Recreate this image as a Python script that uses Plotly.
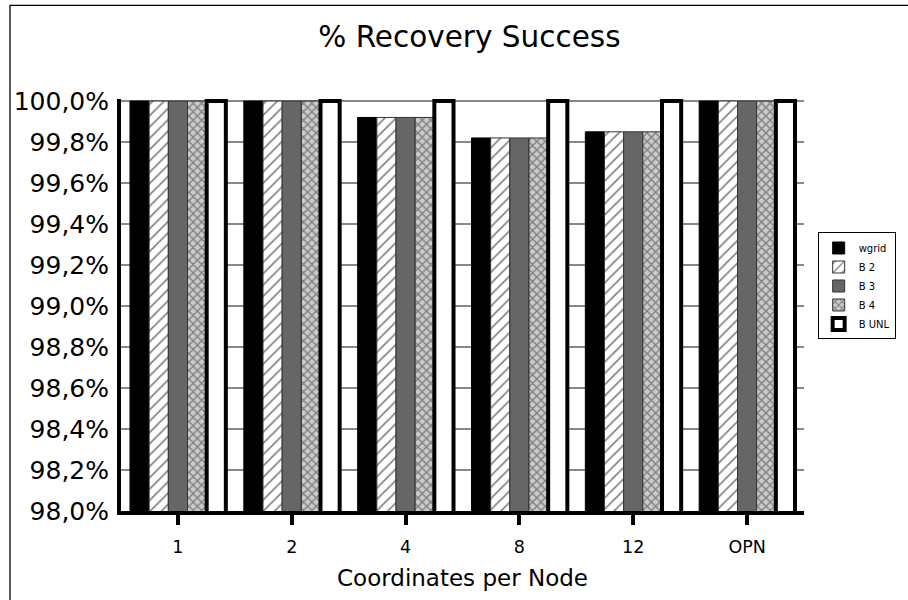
import plotly.graph_objects as go

# Coordinates-per-node settings on the x axis
categories = ["1", "2", "4", "8", "12", "OPN"]

# Recovery success rate (%) per scheme
wgrid = [100.0, 100.0, 99.92, 99.82, 99.85, 100.0]
b2 = [100.0, 100.0, 99.92, 99.82, 99.85, 100.0]
b3 = [100.0, 100.0, 99.92, 99.82, 99.85, 100.0]
b4 = [100.0, 100.0, 99.92, 99.82, 99.85, 100.0]
bunl = [100.0, 100.0, 100.0, 100.0, 100.0, 100.0]

y_ticks = [98.0, 98.2, 98.4, 98.6, 98.8, 99.0, 99.2, 99.4, 99.6, 99.8, 100.0]
y_tick_labels = ["98,0%", "98,2%", "98,4%", "98,6%", "98,8%", "99,0%",
                 "99,2%", "99,4%", "99,6%", "99,8%", "100,0%"]

FONT = "DejaVu Sans"

fig = go.Figure()
fig.add_trace(go.Bar(
    name="wgrid", x=categories, y=wgrid,
    marker=dict(color="black", line=dict(color="black", width=1)),
))
fig.add_trace(go.Bar(
    name="B 2", x=categories, y=b2,
    marker=dict(color="white", line=dict(color="#333333", width=1),
                pattern=dict(shape="/", fgcolor="black", bgcolor="white",
                             size=8, solidity=0.2)),
))
fig.add_trace(go.Bar(
    name="B 3", x=categories, y=b3,
    marker=dict(color="#666666", line=dict(color="#333333", width=1),
                pattern=dict(shape="")),
))
fig.add_trace(go.Bar(
    name="B 4", x=categories, y=b4,
    marker=dict(color="#c8c8c8", line=dict(color="#333333", width=1),
                pattern=dict(shape="x", fgcolor="#333333", bgcolor="#cccccc",
                             size=6, solidity=0.42)),
))
fig.add_trace(go.Bar(
    name="B UNL", x=categories, y=bunl,
    marker=dict(color="white", line=dict(color="black", width=4)),
))

# frame around the whole chart
fig.add_shape(type="rect", xref="paper", yref="paper",
              x0=(10 - 121) / 683, x1=(940 - 121) / 683,
              y0=(513 - 640) / 414, y1=(513 - 5) / 414,
              line=dict(color="black", width=1.3), fillcolor="rgba(0,0,0,0)",
              layer="below")

fig.update_layout(
    width=908, height=600,
    margin=dict(l=121, r=104, t=99, b=87),
    paper_bgcolor="white", plot_bgcolor="white",
    barmode="group", bargap=0.158, bargroupgap=0,
    font=dict(family=FONT, color="black"),
    title=dict(text="% Recovery Success", x=0.517, xanchor="center",
               y=1 - 37 / 600, yanchor="middle", yref="container",
               font=dict(size=29.5, family=FONT, color="black")),
    legend=dict(x=1.02, xanchor="left", y=0.676, yanchor="top",
                bordercolor="black", borderwidth=1, bgcolor="white",
                font=dict(size=10, family=FONT), traceorder="normal",
                itemwidth=30),
    showlegend=True,
)
fig.update_xaxes(
    showline=True, linecolor="black", linewidth=4,
    ticks="outside", ticklen=10, tickwidth=4, tickcolor="black",
    tickfont=dict(size=17.5, family=FONT), ticklabelstandoff=7,
    title=dict(text="Coordinates per Node", font=dict(size=23, family=FONT),
               standoff=15),
    showgrid=False,
)
fig.update_yaxes(
    range=[98, 100.01],
    tickvals=y_ticks, ticktext=y_tick_labels,
    showline=True, linecolor="black", linewidth=4,
    ticks="", tickfont=dict(size=25, family=FONT), ticklabelstandoff=3,
    showgrid=True, gridcolor="#888888", gridwidth=2,
    zeroline=False,
)

fig.write_html("out.html")
